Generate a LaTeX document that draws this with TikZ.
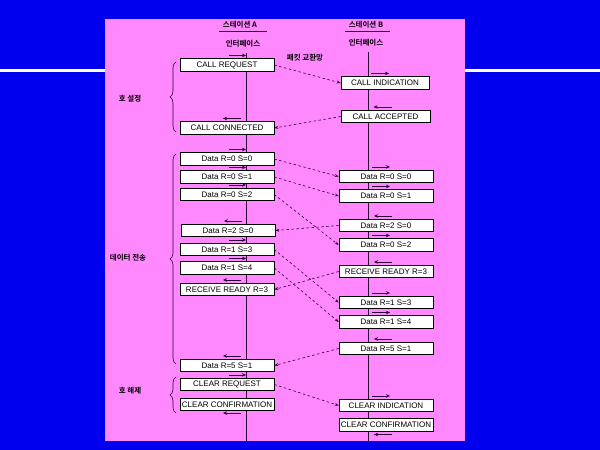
\documentclass[tikz,border=0pt]{standalone}
\usepackage{fontspec}
\setmainfont{Liberation Sans}
\newfontfamily\kr{Noto Sans CJK KR}[BoldFont={* Bold}]
\usetikzlibrary{arrows.meta,decorations.pathreplacing}

\definecolor{slideblue}{RGB}{0,0,238}
\definecolor{slidepink}{RGB}{255,136,255}
\definecolor{ink}{RGB}{40,0,50}

\tikzset{
  pktbox/.style={draw=black, fill=white, line width=0.6pt, minimum width=94pt,
    minimum height=12.5pt, inner xsep=1pt, inner ysep=0pt,
    font=\fontsize{8}{9}\selectfont},
  krtext/.style={font=\kr\bfseries\fontsize{7.5}{9}\selectfont, inner sep=0pt},
  lifeline/.style={draw=ink, line width=0.9pt},
  dirarrow/.style={draw=ink, line width=0.9pt, -{Stealth[length=4pt,width=3.5pt]}},
  netarrow/.style={draw=ink, line width=0.6pt, dash pattern=on 2.5pt off 2.5pt,
    -{Stealth[length=4pt,width=3pt]}},
  phase/.style={draw=ink, line width=0.6pt,
    decorate, decoration={brace, amplitude=6pt, aspect=0.5}}
}

\begin{document}
\begin{tikzpicture}[x=1pt,y=-1pt]
  % fond de la diapositive
  \useasboundingbox (0,0) rectangle (600,450);
  \fill[slideblue] (0,0) rectangle (600,450);
  \fill[white] (0,69) rectangle (600,72);
  \fill[slidepink] (105,19) rectangle (465,441);

  % en-tetes des stations
  \node[krtext] (sta) at (240,25) {스테이션 A};
  \node[krtext] (stb) at (366,25) {스테이션 B};
  \draw[ink, line width=0.6pt] (219,31) -- (267,31);
  \draw[ink, line width=0.6pt] (345,31) -- (390,31);
  \node[krtext] (ifa) at (243,44) {인터페이스};
  \node[krtext] (ifb) at (366,43) {인터페이스};
  \node[krtext] (net) at (305,58) {패킷 교환망};

  % lignes de vie
  \coordinate (la0) at (246,53);
  \coordinate (la1) at (246,441);
  \coordinate (lb0) at (368,52);
  \coordinate (lb1) at (368,441);
  \draw[lifeline] (la0) -- (la1);
  \draw[lifeline] (lb0) -- (lb1);

  % paquets cote A
  \node[pktbox] (creq) at (227,65)    {CALL REQUEST};
  \node[pktbox] (ccon) at (227,128)   {CALL CONNECTED};
  \node[pktbox] (a00)  at (227,159)   {Data R=0 S=0};
  \node[pktbox] (a01)  at (227,177)   {Data R=0 S=1};
  \node[pktbox] (a02)  at (227,194.5) {Data R=0 S=2};
  \node[pktbox] (a20)  at (228,230.5) {Data R=2 S=0};
  \node[pktbox] (a13)  at (227,249.5) {Data R=1 S=3};
  \node[pktbox] (a14)  at (227,268)   {Data R=1 S=4};
  \node[pktbox] (arr)  at (227,289.5) {RECEIVE READY R=3};
  \node[pktbox] (a51)  at (227,365.5) {Data R=5 S=1};
  \node[pktbox] (clrq) at (227,384.5) {CLEAR REQUEST};
  \node[pktbox] (clcf) at (227,404.5) {CLEAR CONFIRMATION};

  % paquets cote B
  \node[pktbox, minimum width=88pt] (cind) at (385,83)    {CALL INDICATION};
  \node[pktbox, minimum width=89pt] (cacc) at (385.5,116.5) {CALL ACCEPTED};
  \node[pktbox] (b00)  at (386,176.5) {Data R=0 S=0};
  \node[pktbox] (b01)  at (386,196)   {Data R=0 S=1};
  \node[pktbox] (b20)  at (386,225.5) {Data R=2 S=0};
  \node[pktbox] (b02)  at (386,245)   {Data R=0 S=2};
  \node[pktbox] (brr)  at (386,271.5) {RECEIVE READY R=3};
  \node[pktbox] (b13)  at (386,302.5) {Data R=1 S=3};
  \node[pktbox] (b14)  at (386,322)   {Data R=1 S=4};
  \node[pktbox] (b51)  at (386,348.5) {Data R=5 S=1};
  \node[pktbox] (clin) at (386,405.5) {CLEAR INDICATION};
  \node[pktbox] (clcb) at (386,425)   {CLEAR CONFIRMATION};

  % petites fleches de sens sur les lignes de vie
  \foreach \n in {creq,a00,a01,a02,a13,a14,clrq}
    \draw[dirarrow] ([xshift=2pt,yshift=3pt]\n.north) -- ++(17,0);
  \foreach \n in {ccon,a20,arr,a51}
    \draw[dirarrow] ([xshift=14pt,yshift=3pt]\n.north) -- ++(-18,0);
  \draw[dirarrow] ([xshift=14pt,yshift=-2pt]clcf.south) -- ++(-18,0);
  \foreach \n in {cind,b00,b01,b02,b13,b14,clin}
    \draw[dirarrow] ([xshift=-14pt,yshift=3pt]\n.north) -- ++(18,0);
  \foreach \n in {cacc,b20,brr,b51}
    \draw[dirarrow] ([xshift=6pt,yshift=3pt]\n.north) -- ++(-18,0);
  \draw[dirarrow] ([xshift=6pt,yshift=-3pt]clcb.south) -- ++(-18,0);

  % echanges a travers le reseau
  \draw[netarrow] (creq.east) -- (cind.west);
  \draw[netarrow] (cacc.west) -- (ccon.east);
  \draw[netarrow] (a00.east) -- (b00.west);
  \draw[netarrow] (a01.east) -- (b01.west);
  \draw[netarrow] (a02.east) -- (b02.west);
  \draw[netarrow] (b20.west) -- (a20.east);
  \draw[netarrow] (a13.east) -- (b13.west);
  \draw[netarrow] (a14.east) -- (b14.west);
  \draw[netarrow] (brr.west) -- (arr.east);
  \draw[netarrow] (b51.west) -- (a51.east);
  \draw[netarrow] (clrq.east) -- (clin.west);

  % phases
  \draw[phase] (176,132) -- (176,62);
  \draw[phase] (176,364) -- (176,154);
  \draw[phase] (176,413) -- (176,377);
  \node[krtext] (setup) at (130,99)  {호 설정};
  \node[krtext] (xfer)  at (128,258) {데이터 전송};
  \node[krtext] (rel)   at (130,391) {호 해제};
\end{tikzpicture}
\end{document}
